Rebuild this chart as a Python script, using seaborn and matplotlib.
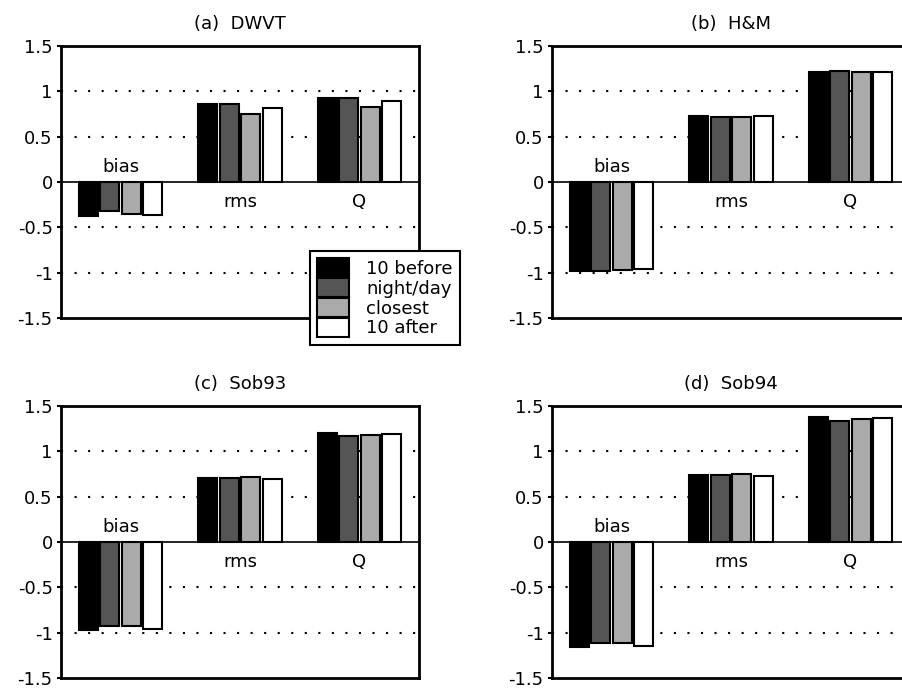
import numpy as np
import pandas as pd
import matplotlib
matplotlib.use('Agg')
import matplotlib.pyplot as plt
import seaborn as sns
from matplotlib.patches import Patch

# Data
stats = ['bias', 'rms', 'Q']
methods = ['10 before', 'night/day', 'closest', '10 after']
colors = ['#000000', '#555555', '#aaaaaa', '#ffffff']
titles = ['(a)  DWVT', '(b)  H&M', '(c)  Sob93', '(d)  Sob94']

# rows = stats (bias, rms, Q), cols = methods
dwvt = [[-0.37, -0.32, -0.35, -0.36],
        [0.86, 0.86, 0.75, 0.82],
        [0.93, 0.93, 0.83, 0.89]]
hm = [[-0.98, -0.98, -0.97, -0.96],
      [0.73, 0.72, 0.72, 0.73],
      [1.21, 1.22, 1.21, 1.21]]
sob93 = [[-0.97, -0.93, -0.93, -0.96],
         [0.71, 0.71, 0.72, 0.70],
         [1.20, 1.17, 1.18, 1.19]]
sob94 = [[-1.16, -1.11, -1.11, -1.15],
         [0.74, 0.74, 0.75, 0.73],
         [1.38, 1.34, 1.36, 1.37]]
panels = [dwvt, hm, sob93, sob94]
yticks = [-1.5, -1, -0.5, 0, 0.5, 1, 1.5]
ytick_labels = ['-1.5', '-1', '-0.5', '0', '0.5', '1', '1.5']

sns.set_style('white')
plt.rcParams['font.family'] = ['DejaVu Sans']
plt.rcParams['text.color'] = 'black'
plt.rcParams['axes.labelcolor'] = 'black'
plt.rcParams['ytick.color'] = 'black'
FS = 13

W, H = 902, 690
fig = plt.figure(figsize=(W / 100, H / 100), dpi=100)

# axes boxes in pixels: left, top, width, height
boxes = [(61, 46, 358, 272), (552, 46, 358, 272),
         (61, 406, 358, 272), (552, 406, 358, 272)]

for box, title, vals in zip(boxes, titles, panels):
    l, t, w, h = box
    ax = fig.add_axes([l / W, 1 - (t + h) / H, w / W, h / H])
    df = pd.DataFrame(vals, index=stats, columns=methods)
    df = df.reset_index().melt(id_vars='index', var_name='method', value_name='value')
    df = df.rename(columns={'index': 'stat'})

    for y in [-1, -0.5, 0.5, 1]:
        ax.axhline(y, color='black', lw=1.5, ls=(0, (1, 5.5)), zorder=0)
    ax.axhline(0, color='black', lw=1.2, zorder=1)

    sns.barplot(data=df, x='stat', y='value', hue='method', order=stats,
                hue_order=methods, palette=colors, edgecolor='black',
                linewidth=1.5, gap=0.12, width=0.72, legend=False, ax=ax,
                saturation=1, zorder=2)

    ax.set_xlim(-0.5, 2.5)
    ax.set_ylim(-1.5, 1.5)
    ax.set_yticks(yticks)
    ax.set_yticklabels(ytick_labels)
    ax.set_xticks([])
    ax.set_xlabel('')
    ax.set_ylabel('')
    ax.tick_params(axis='y', direction='out', length=3, width=1.5, pad=3,
                   labelsize=FS, left=True, colors='black')
    for s in ax.spines.values():
        s.set_color('black')
        s.set_linewidth(2)
    ax.set_title(title, fontsize=FS, pad=12, color='black')

    # group labels: above zero for negative groups, below for positive ones
    for i, name in enumerate(stats):
        m = np.mean(vals[i])
        ax.text(i, 0.16 if m < 0 else -0.22, name, ha='center', va='center',
                fontsize=FS, color='black')

handles = [Patch(facecolor=c, edgecolor='black', linewidth=1.5) for c in colors]
leg = fig.legend(handles, methods, loc='upper left',
                 bbox_to_anchor=(310 / W, 1 - 251 / H), fontsize=FS,
                 frameon=True, fancybox=False, framealpha=1,
                 edgecolor='black', facecolor='white', handlelength=1.78,
                 handleheight=1.28, labelspacing=0.0, handletextpad=0.94,
                 borderpad=0.4, borderaxespad=0, labelcolor='black')
leg.get_frame().set_linewidth(1.5)

fig.savefig('out.png', dpi=100)
